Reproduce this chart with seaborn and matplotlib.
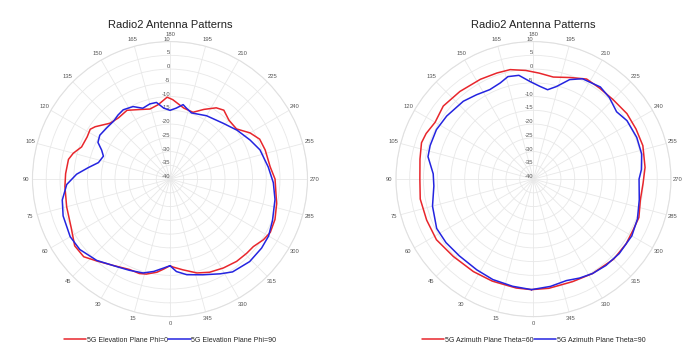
import matplotlib
matplotlib.use("Agg")
import matplotlib.pyplot as plt
import seaborn as sns
import pandas as pd
import numpy as np

# ---- data (angle in degrees, gain in dB) ----
elev_phi0_deg = [0, 4, 8, 14, 18, 24, 33, 42, 48, 55, 64, 75, 86, 93, 101, 105, 110, 117, 122,
                 125, 133, 140, 148, 157, 164, 171, 178, 182, 191, 199, 206, 213, 218, 225, 233,
                 240, 246, 253, 263, 270, 283, 291, 298, 303, 309, 314, 321, 329, 337, 344, 352, 358]
elev_phi0_db = [-8.5, -7.2, -5.8, -4.4, -3.9, -4.0, -2.5, 0.0, 2.2, 2.3, 0.0, -1.1, -1.7, -2.0,
                -2.4, -3.6, -5.8, -6.2, -5.8, -6.8, -10.2, -10.9, -10.5, -12.5, -13.5, -12.6,
                -10.2, -11.1, -13.7, -14.3, -11.8, -9.1, -8.2, -9.7, -9.7, -6.4, -4.3, -3.8,
                -3.3, -1.8, -0.2, 0.9, 1.3, 0.5, -1.0, -1.2, -1.5, -2.3, -3.2, -4.5, -6.7, -8.0]

elev_phi90_deg = [0, 4, 10, 16, 24, 31, 42, 52, 60, 71, 79, 87, 93, 98, 103, 109, 113, 117, 122,
                  129, 136, 141, 146, 153, 159, 165, 170, 175, 180, 185, 190, 193, 198, 210, 224,
                  234, 244, 252, 263, 272, 281, 292, 300, 307, 316, 326, 332, 341, 350, 356]
elev_phi90_db = [-8.5, -7.6, -5.9, -4.5, -3.7, -2.8, -0.2, 1.6, 1.9, 1.1, -0.1, -2.4, -6.0,
                 -10.0, -13.3, -14.4, -13.0, -10.6, -9.9, -10.4, -10.6, -10.0, -9.6, -10.4,
                 -12.4, -11.7, -11.7, -14.1, -15.0, -14.1, -12.5, -13.5, -14.7, -13.4, -11.9,
                 -9.8, -7.6, -5.6, -4.0, -2.4, -1.1, 0.2, 1.4, 1.7, 1.7, 0.7, -1.0, -3.2, -4.7, -6.3]

azim_th60_deg = [1, 9, 22, 33, 46, 58, 69, 80, 90, 100, 108, 113, 120, 129, 140, 152, 161, 168,
                 176, 183, 191, 200, 208, 216, 225, 235, 244, 253, 264, 272, 281, 290, 297, 305,
                 315, 328, 339, 352]
azim_th60_db = [0.2, 0.1, 0.0, 0.1, 0.5, 1.6, 1.6, 1.8, 1.3, 1.9, 2.8, 2.4, 1.3, 2.2, 1.6, 1.1,
                0.8, 0.7, -0.4, -1.4, -2.2, -0.7, 1.2, 0.9, 0.9, 1.5, 1.5, 1.6, 0.8, -0.1, -0.4,
                0.8, 0.7, 1.1, 1.2, 0.5, -0.1, 0.1]

azim_th90_deg = [1, 11, 22, 32, 44, 54, 63, 75, 86, 93, 102, 108, 117, 126, 138, 146, 154, 161,
                 166, 172, 178, 184, 189, 194, 200, 206, 216, 223, 231, 238, 248, 257, 265, 270,
                 281, 291, 300, 311, 320, 328, 335, 342, 351]
azim_th90_db = [0.2, -0.3, -0.6, -1.1, -1.2, -0.7, -0.5, -2.0, -3.7, -3.5, -0.8, -0.5, -0.4,
                -1.0, -1.9, -3.0, -3.8, -3.0, -1.6, -1.9, -4.5, -6.2, -7.1, -5.3, -1.5, 0.6, 1.4,
                0.5, -1.1, 0.1, 0.5, 0.4, -0.6, -1.6, -0.8, 0.5, 1.3, 1.3, 1.0, 0.5, -0.3, -1.2,
                -0.5]

charts = [
    (["5G Elevation Plane Phi=0", "5G Elevation Plane Phi=90"],
     [(elev_phi0_deg, elev_phi0_db), (elev_phi90_deg, elev_phi90_db)]),
    (["5G Azimuth Plane Theta=60", "5G Azimuth Plane Theta=90"],
     [(azim_th60_deg, azim_th60_db), (azim_th90_deg, azim_th90_db)]),
]
title = "Radio2 Antenna Patterns"
r_ticks = list(range(-40, 11, 5))
theta_ticks = list(range(0, 360, 15))
colors = ["#e8262c", "#2424e0"]

sns.set_theme(style="white")
plt.rcParams['font.family'] = ['Liberation Sans', 'DejaVu Sans']

fig = plt.figure(figsize=(6.91, 3.55), dpi=100)
lefts = [0.047, 0.573]
for left, (names, series) in zip(lefts, charts):
    ax = fig.add_axes([left, 0.108, 0.398, 0.775], projection="polar")
    rows = []
    for name, (deg, db) in zip(names, series):
        deg = list(deg) + [deg[0] + 360]
        db = list(db) + [db[0]]
        for d, v in zip(deg, db):
            rows.append({"theta": np.deg2rad(d), "gain": v, "series": name})
    df = pd.DataFrame(rows)
    sns.lineplot(data=df, x="theta", y="gain", hue="series", palette=colors,
                 sort=False, estimator=None, linewidth=1.1, ax=ax)
    ax.set_theta_zero_location("S")
    ax.set_theta_direction(-1)
    ax.set_ylim(-40, 10)
    ax.set_yticks(r_ticks)
    ax.set_yticklabels([str(t) for t in r_ticks], fontsize=4.2, color="#555555")
    ax.set_rlabel_position(180)
    for lbl in ax.get_yticklabels():
        lbl.set_ha("right")
    ax.set_thetagrids(theta_ticks, [str(t) for t in theta_ticks], fontsize=4.2, color="#555555")
    ax.tick_params(axis="x", pad=-8)
    ax.grid(True, color="#e8e8e8", linewidth=0.6)
    ax.spines["polar"].set_color("#e0e0e0")
    ax.spines["polar"].set_linewidth(0.8)
    ax.set_xlabel("")
    ax.set_ylabel("")
    fig.text(left + 0.199, 0.93, title, fontsize=8, color="#222222", ha="center", va="center")
    ax.legend(loc="upper center", bbox_to_anchor=(0.5, -0.05), ncol=2, frameon=False,
              fontsize=5, handlelength=3.2, columnspacing=0.1, handletextpad=0.1)

fig.savefig("out.png", dpi=100, facecolor="white")
